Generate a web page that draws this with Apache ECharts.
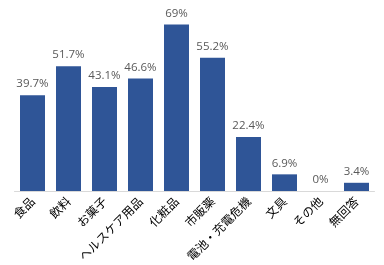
<!DOCTYPE html>
<html><head><meta charset="utf-8">
<script src="https://cdn.jsdelivr.net/npm/echarts@6/dist/echarts.min.js"></script>
<style>html,body{margin:0;padding:0;background:#fff}#c{width:384px;height:265px}</style>
</head><body><div id="c"></div>
<script>
const categories = ['食品','飲料','お菓子','ヘルスケア用品','化粧品','市販薬','電池・充電危機','文具','その他','無回答'];
const values = [39.7, 51.7, 43.1, 46.6, 69, 55.2, 22.4, 6.9, 0, 3.4];
const chart = echarts.init(document.getElementById('c'), null, {renderer:'canvas'});
chart.setOption({
  animation:false,
  grid:{left:14.5, right:9.5, top:22, bottom:74},
  xAxis:{type:'category', data:categories,
    axisLine:{lineStyle:{color:'#d9d9d9'}}, axisTick:{show:false},
    axisLabel:{rotate:45, interval:0, color:'#000', fontSize:12, margin:8,
      fontFamily:'"Noto Sans CJK JP", sans-serif'}},
  yAxis:{type:'value', min:0, max:70, show:false, splitLine:{show:false}},
  series:[{type:'bar', data:values, barWidth:25,
    itemStyle:{color:'#2f5597'},
    label:{show:true, position:'top', distance:5, color:'#595959', fontSize:11.5,
      fontFamily:'"Open Sans", sans-serif', formatter:p=>p.value+'%'}}]
});
</script></body></html>
